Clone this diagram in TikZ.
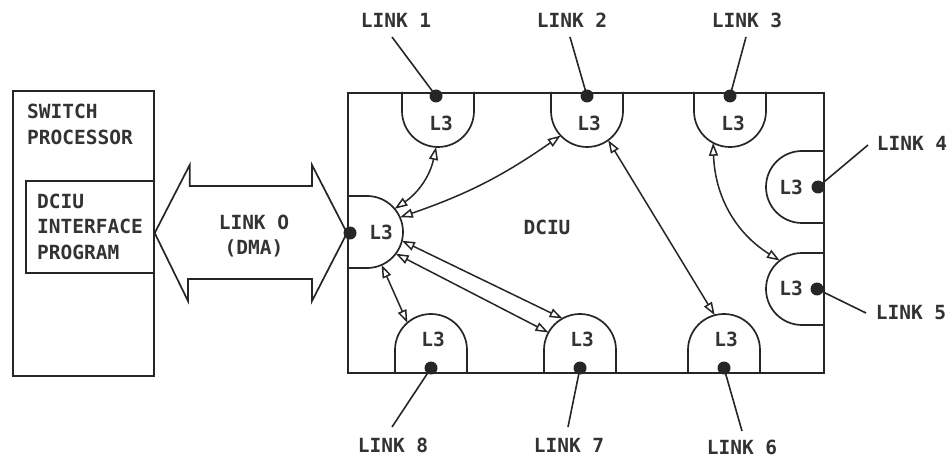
\documentclass[tikz,border=0pt]{standalone}
\usepackage{fontspec}
\newfontfamily\monofnt{DejaVu Sans Mono}
\usetikzlibrary{arrows.meta,calc}
\begin{document}
\begin{tikzpicture}[x=1pt,y=1pt,
  ln/.style={line width=1.7pt, draw=black!85},
  lbl/.style={font=\monofnt\bfseries\fontsize{19.5}{25.5}\selectfont, inner sep=0pt, text=black!80},
  hole/.style={circle, minimum size=72pt, inner sep=0pt, outer sep=0pt},
  dot/.style={fill=black!85},
  lead/.style={line width=1.6pt, draw=black!85},
  biarrow/.style={line width=1.5pt, draw=black!85,
    {Triangle[open,length=13pt,width=9pt]}-{Triangle[open,length=13pt,width=9pt]}},
  ]
\useasboundingbox (0,0) rectangle (950,-457);

% switch processor
\node[draw, ln, anchor=north west, minimum width=141pt, minimum height=285pt, inner sep=0pt] (sp) at (12,-90) {};
\node[draw, ln, anchor=north east, minimum width=128pt, minimum height=92pt, inner sep=0pt] (dip) at (sp.east |- 0,-180) {};
\node[lbl, align=left, anchor=west] (sptext) at (27,-124.5) {SWITCH\\PROCESSOR};
\node[lbl, align=left, anchor=west] (diptext) at (37,-226.5) {DCIU\\INTERFACE\\PROGRAM};

% DCIU box
\node[draw, ln, anchor=north west, minimum width=476pt, minimum height=280pt, inner sep=0pt] (box) at (347,-92) {};
\node[lbl] (dciu) at (547,-227) {DCIU};

% big double arrow (LINK 0)
\draw[ln] (sp.east |- 0,-233) coordinate (atip)
  -- ++(35,68) -- ++(0,-21) -- (312,-186) -- ++(0,21)
  -- (box.west |- 0,-233) coordinate (btip)
  -- (312,-301) -- ++(0,22) -- (188,-279) -- ++(0,-22) -- cycle;
\node[lbl, align=center] (l0) at (254,-236) {LINK O\\(DMA)};

% L3 units
\node[hole] (C0) at (367,-232) {};
\node[hole] (C1) at (438,-111) {};
\node[hole] (C2) at (587,-111) {};
\node[hole] (C3) at (730,-111) {};
\node[hole] (C4) at (802,-187) {};
\node[hole] (C5) at (802,-289) {};
\node[hole] (C6) at (724,-350) {};
\node[hole] (C7) at (580,-350) {};
\node[hole] (C8) at (431,-350) {};

\draw[ln] (C0.north -| box.west) -- (C0.north) arc[start angle=90,end angle=-90,radius=36] -- (C0.south -| box.west);
\foreach \c in {C1,C2,C3}{
  \draw[ln] (\c.west |- box.north) -- (\c.west) arc[start angle=180,end angle=360,radius=36] -- (\c.east |- box.north);
}
\foreach \c in {C4,C5}{
  \draw[ln] (\c.north -| box.east) -- (\c.north) arc[start angle=90,end angle=270,radius=36] -- (\c.south -| box.east);
}
\foreach \c in {C6,C7,C8}{
  \draw[ln] (\c.west |- box.south) -- (\c.west) arc[start angle=180,end angle=0,radius=36] -- (\c.east |- box.south);
}

\node[lbl] (t0) at (381,-232) {L3};
\node[lbl] (t1) at (441,-123) {L3};
\node[lbl] (t2) at (589,-123) {L3};
\node[lbl] (t3) at (733,-123) {L3};
\node[lbl] (t4) at (791,-187) {L3};
\node[lbl] (t5) at (791,-288) {L3};
\node[lbl] (t6) at (726,-339) {L3};
\node[lbl] (t7) at (582,-339) {L3};
\node[lbl] (t8) at (433,-339) {L3};

% dots
\fill[dot] (350,-233) circle[radius=6.5] coordinate (d0);
\fill[dot] (436,-96) circle[radius=6.5] coordinate (d1);
\fill[dot] (587,-96) circle[radius=6.5] coordinate (d2);
\fill[dot] (730,-96) circle[radius=6.5] coordinate (d3);
\fill[dot] (818,-187) circle[radius=6.5] coordinate (d4);
\fill[dot] (817,-289) circle[radius=6.5] coordinate (d5);
\fill[dot] (724,-368) circle[radius=6.5] coordinate (d6);
\fill[dot] (580,-368) circle[radius=6.5] coordinate (d7);
\fill[dot] (431,-368) circle[radius=6.5] coordinate (d8);

% link labels and leaders
\node[lbl] (k1) at (396,-20) {LINK 1};
\node[lbl] (k2) at (572,-20) {LINK 2};
\node[lbl] (k3) at (747,-20) {LINK 3};
\node[lbl] (k4) at (912,-143) {LINK 4};
\node[lbl] (k5) at (911,-313) {LINK 5};
\node[lbl] (k6) at (742,-447) {LINK 6};
\node[lbl] (k7) at (569,-445) {LINK 7};
\node[lbl] (k8) at (393,-445) {LINK 8};

\coordinate (e1) at (392,-37);
\coordinate (e2) at (570,-37);
\coordinate (e3) at (746,-37);
\coordinate (e4) at (868,-145);
\coordinate (e5) at (866,-313);
\coordinate (e6) at (742,-431);
\coordinate (e7) at (568,-427);
\coordinate (e8) at (392,-427);
\foreach \i in {1,...,8}{ \draw[lead] (e\i) -- (d\i); }

% internal connections
\draw[biarrow] (C1.267) to[bend left=22] (C0.40);
\draw[biarrow] (C2.223) to[bend left=8] (C0.24);
\draw[biarrow] (C0.-14) -- (C7.119);
\draw[biarrow] (C0.-37) -- (C7.151);
\draw[biarrow] (C0.-66) -- (C8.131);
\draw[biarrow] (C2.-54) -- (C6.105);
\draw[biarrow] (C3.-118) to[out=-88, in=148] (C5.128);
\end{tikzpicture}
\end{document}
